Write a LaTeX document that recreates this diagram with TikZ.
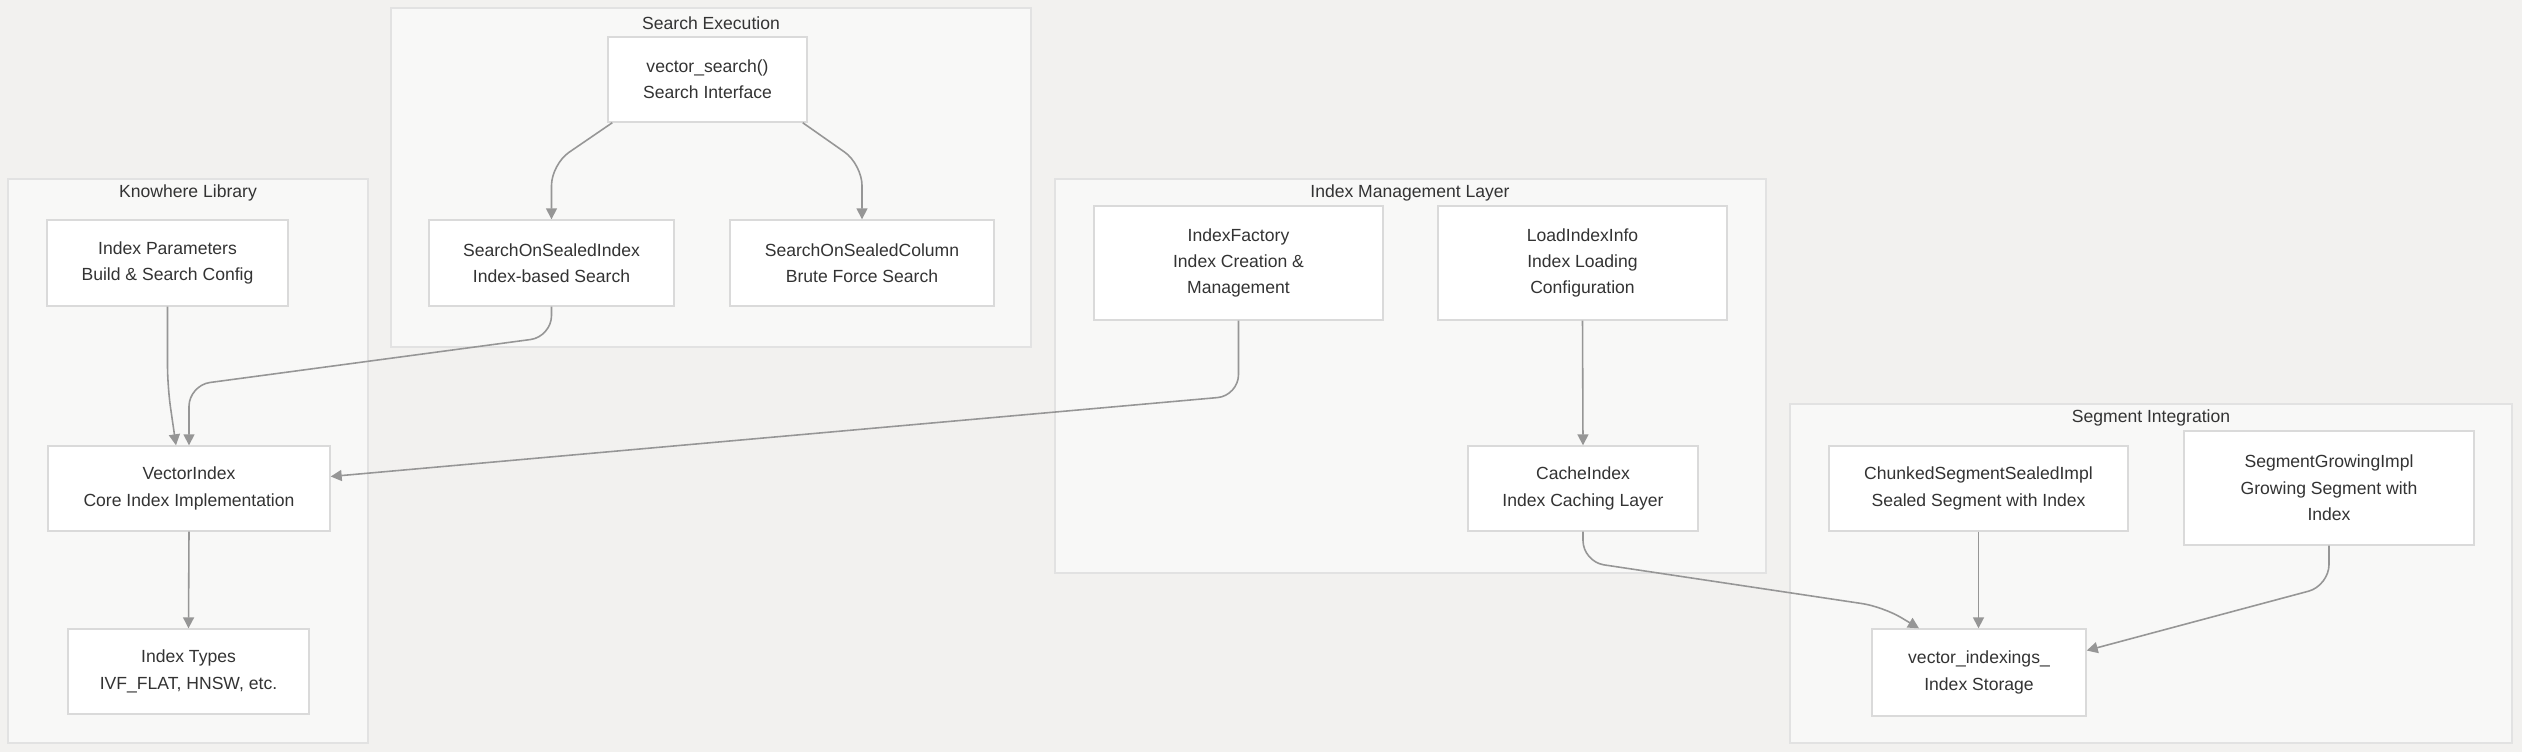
\documentclass[tikz,border=0pt]{standalone}
\usepackage{fontspec}
\setmainfont{Liberation Sans}
\usetikzlibrary{arrows.meta, positioning, calc}
\definecolor{canvasgrey}{RGB}{242, 241, 239}
\definecolor{clusterfill}{RGB}{248, 248, 247}
\definecolor{clusterline}{RGB}{226, 226, 226}
\definecolor{boxline}{RGB}{218, 218, 218}
\definecolor{edgegrey}{RGB}{150, 150, 150}
\definecolor{textgrey}{RGB}{51, 51, 51}
\tikzset{
  >=Triangle,
  flowarrow/.style={-{Triangle[length=2.2mm, width=2.2mm]}, line width=0.9pt, edgegrey, rounded corners=12pt}
}

\begin{document}
\begin{tikzpicture}[x=0.02cm, y=-0.02cm,
    font=\fontsize{10}{15}\selectfont, text=textgrey,
    box/.style 2 args={draw=boxline, line width=0.8pt, fill=white, align=center, inner sep=0pt, minimum width=#1*0.02cm, minimum height=#2*0.02cm},
    cluster/.style={draw=clusterline, line width=0.8pt, fill=clusterfill},
    ctitle/.style={anchor=center, inner sep=0pt}]

    % Canvas
    \fill[canvasgrey] (0,0) rectangle (2522,752);
    \useasboundingbox (0,0) rectangle (2522,752);

    % Clusters
    \draw[cluster] (8,179) rectangle (368,743);
    \node[ctitle] (tknow) at (188,193) {Knowhere Library};
    \draw[cluster] (391,8) rectangle (1031,347);
    \node[ctitle] (tsearch) at (711,23) {Search Execution};
    \draw[cluster] (1055,179) rectangle (1766,573);
    \node[ctitle] (tmgmt) at (1410,193) {Index Management Layer};
    \draw[cluster] (1790,404) rectangle (2512,743);
    \node[ctitle] (tseg) at (2151,418) {Segment Integration};

    % Knowhere Library
    \node[box={241}{86}] (ipar) at (167.5,263) {Index Parameters\\Build \& Search Config};
    \node[box={282}{85}] (vidx) at (189,488.5) {VectorIndex\\Core Index Implementation};
    \node[box={241}{85}] (itypes) at (188.5,671.5) {Index Types\\IVF\_FLAT, HNSW, etc.};

    % Search Execution
    \node[box={199}{85}] (vs) at (707.5,79.5) {vector\_search()\\Search Interface};
    \node[box={245}{86}] (ssi) at (551.5,263) {SearchOnSealedIndex\\Index-based Search};
    \node[box={264}{86}] (ssc) at (862,263) {SearchOnSealedColumn\\Brute Force Search};

    % Index Management Layer
    \node[box={289}{114}] (fac) at (1238.5,263) {IndexFactory\\Index Creation \&\\Management};
    \node[box={289}{114}] (load) at (1582.5,263) {LoadIndexInfo\\Index Loading\\Configuration};
    \node[box={230}{85}] (cache) at (1583,488.5) {CacheIndex\\Index Caching Layer};

    % Segment Integration
    \node[box={299}{85}] (chunk) at (1978.5,488.5) {ChunkedSegmentSealedImpl\\Sealed Segment with Index};
    \node[box={290}{114}] (grow) at (2329,488) {SegmentGrowingImpl\\Growing Segment with\\Index};
    \node[box={214}{87}] (vix) at (1979,672.5) {vector\_indexings\_\\Index Storage};

    % Arrows inside Search Execution
    \draw[flowarrow] ($(vs.south west)+(5,0)$) -- ($(ssi.north)+(0,-55)$) -- (ssi.north);
    \draw[flowarrow] ($(vs.south east)+(-5,0)$) -- ($(ssc.north)+(0,-55)$) -- (ssc.north);

    % Arrows into VectorIndex
    \draw[flowarrow] (ipar.south) -- ++(0,80) -- ($(vidx.north)+(-13,0)$);
    \draw[flowarrow] (ssi.south) -- ++(0,30) -- ($(vidx.north)+(0,-60)$) -- (vidx.north);
    \draw[flowarrow] (fac.south) -- ++(0,75) -- ($(vidx.east)+(0,-12)$);
    \draw[flowarrow] (vidx.south) -- (itypes.north);

    % Arrows into index storage
    \draw[flowarrow] (load.south) -- (cache.north);
    \draw[flowarrow] (cache.south) -- ++(0,30) -- ++(300,45) -- ($(vix.north)+(-60,0)$);
    \draw[flowarrow] (chunk.south) -- (chunk.south |- vix.north);
    \draw[flowarrow] (grow.south) -- ++(0,40) -- ($(vix.east)+(0,-22)$);

\end{tikzpicture}
\end{document}
